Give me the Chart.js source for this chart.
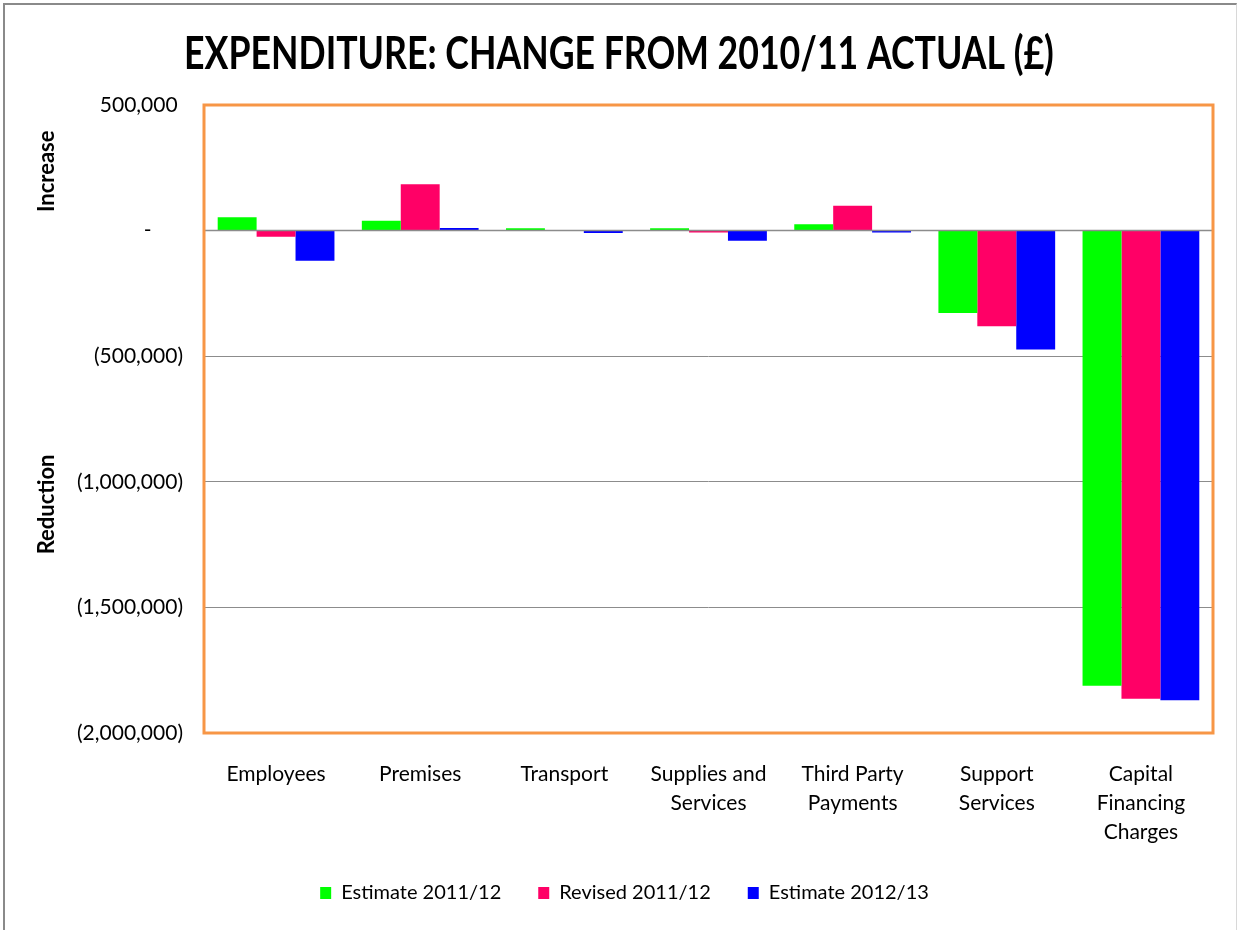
<!DOCTYPE html>
<html>
<head>
<meta charset="utf-8">
<title>Expenditure: change from 2010/11 actual</title>
<script src="https://cdn.jsdelivr.net/npm/chart.js@4.4.0/dist/chart.umd.min.js"></script>
<style>
  html, body { margin: 0; padding: 0; background: #fff; }
  #frame { position: absolute; left: 3px; top: 3px; width: 1231px; height: 940px;
           border-left: 2px solid #8a8a8a; border-top: 2px solid #8a8a8a; border-right: 1px solid #d8d8d8; }
  #wrap { position: absolute; left: 0; top: 0; width: 1237px; height: 930px; }
</style>
</head>
<body>
<div id="frame"></div>
<div id="wrap"><canvas id="chart"></canvas></div>
<script>
// categories (multi-line labels as in the original)
const categories = [
  ['Employees'],
  ['Premises'],
  ['Transport'],
  ['Supplies and', 'Services'],
  ['Third Party', 'Payments'],
  ['Support', 'Services'],
  ['Capital', 'Financing', 'Charges']
];

// change from 2010/11 actual, in pounds
const estimate1112 = [53000, 39000, 9000, 9000, 25000, -328000, -1812000];
const revised1112  = [-24000, 185000, -2000, -8000, 99000, -381000, -1864000];
const estimate1213 = [-120000, 10000, -10000, -40000, -8000, -473000, -1870000];

const seriesNames = ['Estimate 2011/12', 'Revised 2011/12', 'Estimate 2012/13'];
const seriesColors = ['#00ff00', '#ff0066', '#0000ff'];

const chartTitle = 'EXPENDITURE: CHANGE FROM 2010/11 ACTUAL (£)';

const FONT = 'Lato, "Open Sans", sans-serif';

// zero line over the bars, orange plot frame, side labels and the (condensed) title
const frameAndLabels = {
  id: 'frameAndLabels',
  afterDatasetsDraw(chart) {
    const {ctx, chartArea: a, scales: {y}} = chart;
    ctx.save();

    const y0 = y.getPixelForValue(0);
    ctx.strokeStyle = '#8c8c8c';
    ctx.lineWidth = 1.5;
    ctx.beginPath();
    ctx.moveTo(a.left, y0);
    ctx.lineTo(a.right, y0);
    ctx.stroke();

    ctx.strokeStyle = '#f79646';
    ctx.lineWidth = 3;
    ctx.strokeRect(a.left, a.top, a.right - a.left, a.bottom - a.top);

    ctx.fillStyle = '#000';
    ctx.font = 'bold 22px ' + FONT;
    ctx.textAlign = 'center';
    ctx.textBaseline = 'middle';
    [['Increase', 236000], ['Reduction', -1090000]].forEach(([txt, v]) => {
      ctx.save();
      ctx.translate(47, y.getPixelForValue(v));
      ctx.rotate(-Math.PI / 2);
      ctx.fillText(txt, 0, 0);
      ctx.restore();
    });

    // Calibri-like narrow bold title: squeeze Lato horizontally
    ctx.save();
    ctx.font = 'bold 46px ' + FONT;
    ctx.translate(619, 54);
    ctx.scale(0.775, 1);
    ctx.fillText(chartTitle, 0, 0);
    ctx.restore();

    ctx.restore();
  }
};

function fmt(v) {
  if (v === 0) return '-\u2002\u2002\u2002';
  const s = Math.abs(v).toLocaleString('en-GB');
  return v < 0 ? '(' + s + ')' : s + ' ';
}

new Chart(document.getElementById('chart'), {
  type: 'bar',
  data: {
    labels: categories,
    datasets: [estimate1112, revised1112, estimate1213].map((values, i) => ({
      label: seriesNames[i],
      data: values,
      backgroundColor: seriesColors[i],
      borderWidth: 0,
      categoryPercentage: 0.81,
      barPercentage: 1.0
    }))
  },
  options: {
    responsive: true,
    maintainAspectRatio: false,
    animation: false,
    layout: {padding: {left: 36, right: 24, top: 105, bottom: 17}},
    plugins: {
      title: {display: false},
      legend: {
        position: 'bottom',
        maxHeight: 86,
        labels: {
          color: '#000',
          font: {family: FONT, size: 20},
          boxWidth: 11,
          boxHeight: 12,
          padding: 37
        }
      },
      tooltip: {enabled: false}
    },
    scales: {
      x: {
        grid: {display: false, drawTicks: false},
        border: {display: false},
        ticks: {
          color: '#000',
          font: {family: FONT, size: 21, lineHeight: 1.38},
          padding: 27,
          maxRotation: 0,
          autoSkip: false
        },
        afterFit(scale) { scale.height = 113; }
      },
      y: {
        min: -2000000,
        max: 500000,
        grid: {color: '#8c8c8c', lineWidth: 1, drawTicks: false},
        border: {display: false},
        ticks: {
          stepSize: 500000,
          color: '#000',
          font: {family: FONT, size: 21},
          padding: 21,
          callback: fmt
        },
        afterFit(scale) { scale.width = 168; }
      }
    }
  },
  plugins: [frameAndLabels]
});
</script>
</body>
</html>
